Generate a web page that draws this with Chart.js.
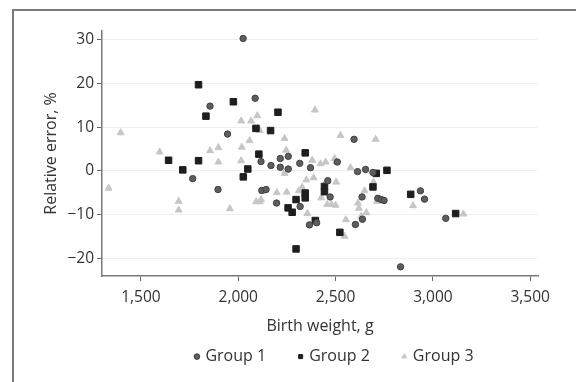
<!DOCTYPE html>
<html>
<head>
<meta charset="utf-8">
<script src="https://cdn.jsdelivr.net/npm/chart.js@4/dist/chart.umd.min.js"></script>
<style>
  html, body { margin: 0; padding: 0; background: #fff; overflow: hidden; }
  #wrap { position: relative; width: 576px; height: 382px; }
  #frame { position: absolute; left: 12px; top: 9px; width: 620px; height: 420px; border: 2px solid #7a7a7a; box-sizing: border-box; }
  canvas { position: absolute; left: 0; top: 0; }
</style>
</head>
<body>
<div id="wrap">
  <div id="frame"></div>
  <canvas id="c" width="576" height="382"></canvas>
</div>
<script>
// ---- data ----
const seriesNames = ["Group 1", "Group 2", "Group 3"];

const group1X = [2025,2087,1855,1945,2595,1766,1896,2117,2168,2216,2257,2216,2257,2316,2371,2509,2613,2654,2692,2121,2143,2197,2318,2366,2403,2460,2472,2636,2638,2602,2717,2735,2749,2936,2957,3066,2834];
const group1Y = [30.3,16.6,14.8,8.4,7.2,-1.8,-4.3,2.1,1.2,2.8,3.3,0.8,0.4,1.7,0.7,2.0,-0.2,0.3,-0.4,-4.5,-4.3,-7.4,-8.2,-12.4,-11.9,-2.3,-6.0,-6.0,-11.1,-12.3,-6.3,-6.6,-6.8,-4.6,-6.5,-10.9,-22.0];

const group2X = [1796,1975,1834,2204,2091,2166,2106,2344,1642,1796,1715,2049,2026,2764,2709,2344,2344,2443,2443,2297,2256,2277,2396,2522,2297,2886,3117,2692];
const group2Y = [19.7,15.8,12.5,13.4,9.7,9.2,3.8,4.1,2.4,2.3,0.2,0.4,-1.4,0.1,-0.6,-5.1,-6.2,-3.6,-4.8,-6.6,-8.5,-9.5,-11.4,-14.1,-17.9,-5.4,-9.8,-3.7];

const group3X = [1396,1334,1596,1694,1694,1855,1898,1898,1957,2015,2066,2098,2111,2018,2058,2015,2092,2111,2117,2126,2238,2246,2238,2246,2249,2198,2328,2311,2394,2380,2423,2449,2495,2503,2387,2350,2355,2426,2457,2479,2500,2455,2503,2525,2577,2553,2546,2615,2620,2658,2632,2649,2706,2695,2713,2898,3157];
const group3Y = [8.7,-4.0,4.3,-7.0,-9.0,4.6,5.3,2.0,-8.7,11.4,11.4,12.6,9.2,5.4,6.9,2.3,-7.1,-7.1,-6.6,-4.7,7.4,4.7,-0.6,0.1,-4.9,-5.0,-3.8,-4.6,13.9,2.4,1.6,2.0,2.8,2.0,-1.6,-2.1,-9.8,-6.2,-7.7,-7.7,-7.9,-2.3,-2.6,8.1,0.7,-11.2,-15.0,-7.4,-8.6,-9.6,-10.4,-4.6,7.2,-2.6,-7.0,-8.0,-9.9];

const xTicks = [1500, 2000, 2500, 3000, 3500];
const yTicks = [-20, -10, 0, 10, 20, 30];
const xTitle = "Birth weight, g";
const yTitle = "Relative error, %";

// ---- chart ----
const toPts = (xs, ys) => xs.map((x, i) => ({ x: x, y: ys[i] }));
const FONT = "'Open Sans', 'Noto Sans', sans-serif";
const PLOT_BOTTOM = 276;
const PAD_BOTTOM = 7.4;
const LEGEND_SHIFT = 45;

const legendShift = {
  id: 'legendShift',
  afterLayout(chart) {
    const lg = chart.legend;
    if (lg) { lg.left += LEGEND_SHIFT; lg.right += LEGEND_SHIFT; }
  }
};

new Chart(document.getElementById('c'), {
  type: 'scatter',
  plugins: [legendShift],
  data: {
    datasets: [
      { label: seriesNames[0], data: toPts(group1X, group1Y), pointStyle: 'circle', pointRadius: 3.2,
        backgroundColor: '#5e5e5e', borderColor: '#404040', borderWidth: 1 },
      { label: seriesNames[1], data: toPts(group2X, group2Y), pointStyle: 'rect', pointRadius: 4.6,
        backgroundColor: '#1e1e1e', borderColor: '#1e1e1e', borderWidth: 1 },
      { label: seriesNames[2], data: toPts(group3X, group3Y), pointStyle: 'triangle', pointRadius: 4,
        backgroundColor: '#c6c6c6', borderColor: '#c6c6c6', borderWidth: 1 }
    ]
  },
  options: {
    responsive: false,
    animation: false,
    events: [],
    layout: { padding: { left: 42, right: 38, top: 31, bottom: PAD_BOTTOM } },
    plugins: {
      tooltip: { enabled: false },
      legend: {
        position: 'bottom',
        labels: {
          usePointStyle: true,
          boxWidth: 1,
          boxHeight: 4,
          padding: 34,
          color: '#333',
          font: { family: FONT, size: 16 }
        }
      }
    },
    scales: {
      x: {
        type: 'linear',
        min: 1300, max: 3540,
        afterBuildTicks: s => { s.ticks = xTicks.map(v => ({ value: v })); },
        afterFit: s => {
          const lh = s.chart.legend ? s.chart.legend.height : 0;
          s.height = Math.max(1, 382 - PAD_BOTTOM - lh - PLOT_BOTTOM);
        },
        ticks: { color: '#333', font: { family: FONT, size: 15.5 }, padding: 7,
                 callback: v => v.toLocaleString('en-US') },
        grid: { drawOnChartArea: false, tickColor: '#666', tickLength: 5 },
        border: { color: '#7a7a7a', width: 1.5 },
        title: { display: true, text: xTitle, color: '#333', font: { family: FONT, size: 16 }, padding: { top: 0, bottom: -21 } }
      },
      y: {
        type: 'linear',
        min: -24.1, max: 32,
        afterBuildTicks: s => { s.ticks = yTicks.map(v => ({ value: v })); },
        afterFit: s => { s.width = 60; },
        ticks: { color: '#333', font: { family: FONT, size: 15.5 }, padding: 3,
                 callback: v => v < 0 ? '\u2212' + Math.abs(v) : String(v) },
        grid: { color: '#efefef', tickColor: '#666', tickLength: 5 },
        border: { color: '#7a7a7a', width: 1.5 },
        title: { display: true, text: yTitle, color: '#333', font: { family: FONT, size: 16 }, padding: { top: 0, bottom: 0 } }
      }
    }
  }
});
</script>
</body>
</html>
